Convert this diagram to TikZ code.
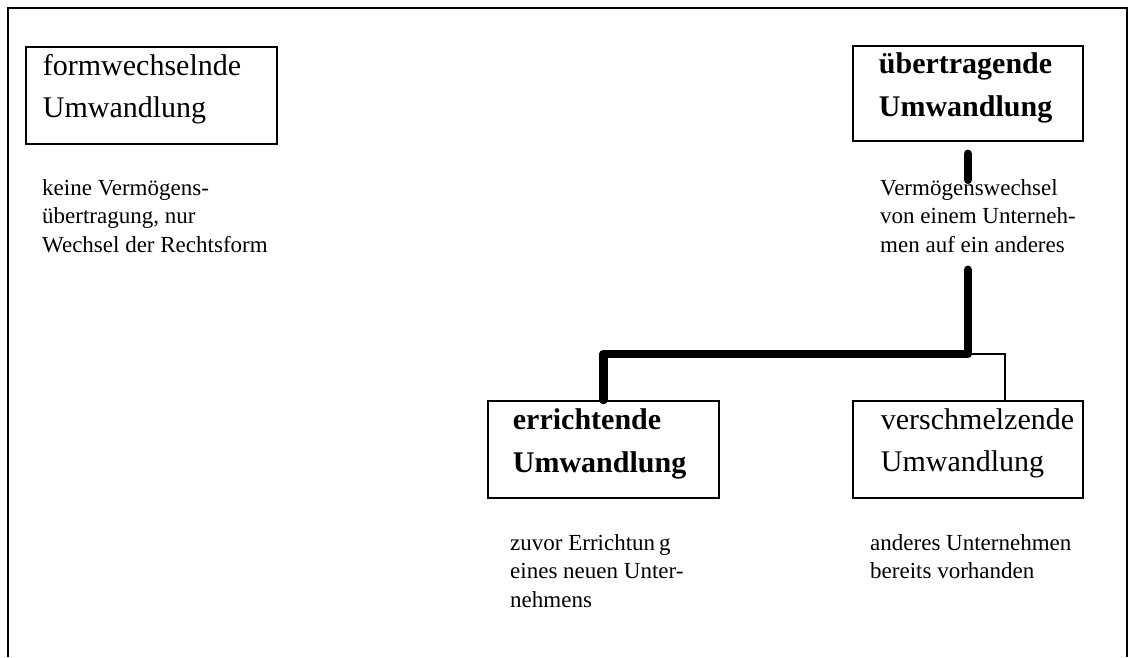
\documentclass[tikz,border=0pt]{standalone}
\usepackage{fontspec}
\setmainfont{Liberation Serif}
\usepackage{tikz}
\hfuzz=30pt

\begin{document}
\begin{tikzpicture}[
    x=1pt, y=-1pt,
    box/.style={draw, line width=1.8pt, anchor=north west, minimum height=97pt, align=left, inner ysep=0pt,
        font=\fontsize{30}{42}\selectfont, execute at end node={\rule[-18pt]{0pt}{18pt}}},
    boldbox/.style={box, font=\fontsize{30}{43}\selectfont\bfseries},
    note/.style={anchor=north west, align=left, inner sep=0pt, font=\fontsize{23}{28.5}\selectfont},
    heavy/.style={line width=8.5pt, line cap=round, line join=round},
    sideline/.style={line width=1.5pt}
]
    \useasboundingbox (0,0) rectangle (1135,657);
    \draw[line width=2.2pt] (8,657) -- (8,8) -- (1127,8) -- (1127,657);

    \node[box, inner xsep=17pt, text width=217pt] (formw) at (25,46) {formwechselnde\\Umwandlung};
    \node[boldbox, inner xsep=26pt, text width=178pt, minimum height=95pt] (uebertr) at (852,45) {übertragende\\Umwandlung};
    \node[boldbox, inner xsep=25pt, text width=181pt] (erricht) at (487,400) {errichtende\\Umwandlung};
    \node[box, inner xsep=28pt, text width=174pt] (verschm) at (852,400) {verschmelzende\\Umwandlung};

    \node[note] (formwtxt) at (42,179) {keine Vermögens-\\übertragung, nur\\Wechsel der Rechtsform};
    \node[note] (uebertrtxt) at (880,179) {Vermögenswechsel\\von einem Unterneh-\\men auf ein anderes};
    \node[note] (errichttxt) at (510,534) {zuvor Errichtun\,g\\eines neuen Unter-\\nehmens};
    \node[note] (verschmtxt) at (870,534) {anderes Unternehmen\\bereits vorhanden};

    \coordinate (fork) at ([yshift=-212pt]uebertr.south);
    \draw[heavy] ([yshift=-12pt]uebertr.south) -- ([yshift=-38pt]uebertr.south);
    \draw[heavy] ([yshift=-128pt]uebertr.south) -- (fork) -| (erricht.north);
    \draw[sideline] (fork) -| ([xshift=37pt]verschm.north);
\end{tikzpicture}
\end{document}
